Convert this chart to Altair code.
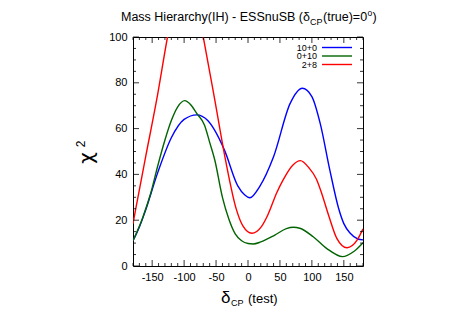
import altair as alt
import pandas as pd

# ---- data ----
series_names = ["10+0", "0+10", "2+8"]
series_colors = ["#0000ff", "#006400", "#ff0000"]

blue_x = [-180, -170, -162, -141, -120, -100, -80, -63, -37, -16, -5, 3, 18, 40, 66, 85, 100, 113, 128, 142, 150, 160, 172, 180]
blue_y = [11, 17, 23, 41, 56, 64, 66, 63.5, 50.7, 35, 31, 29.8, 34.6, 47.7, 71, 77.6, 74, 62.3, 42, 25, 18.5, 14.3, 11.8, 11.4]

green_x = [-180, -165, -152, -141, -130, -120, -110, -99, -90, -80, -68, -60, -52, -40, -30, -20, -10, 0, 8, 20, 42, 60, 71, 81, 102, 123, 148, 165, 180]
green_y = [11, 21, 32, 44, 55, 63.5, 69.5, 72.2, 70.5, 66.5, 61.5, 54, 46.3, 30, 20.5, 14, 11, 9.8, 9.6, 10.5, 13.5, 16.3, 16.9, 16.5, 12.8, 7.7, 4.1, 6.2, 10.2]

red_x = [-180, -176, -160, -143, -126, -112, -98, -84, -70, -52, -35, -18, -8, 6, 21, 31, 45, 55, 70, 82, 95, 107, 115, 126, 139, 155, 171, 180]
red_y = [18.5, 24.5, 48, 72.5, 100, 120, 128, 120, 100, 72.5, 46, 24.5, 17.5, 14.3, 17.2, 22.3, 32, 37.6, 44, 46, 43, 38, 32, 22.3, 12.1, 8, 11.4, 16.2]

x_major = [-150, -100, -50, 0, 50, 100, 150]
x_minor = [v for v in range(-180, 181, 10) if v % 50 != 0]
y_major = [0, 20, 40, 60, 80, 100]
y_minor = [v for v in range(0, 101, 5) if v % 20 != 0]

rows = []
for name, xs, ys in zip(series_names, [blue_x, green_x, red_x], [blue_y, green_y, red_y]):
    for xv, yv in zip(xs, ys):
        rows.append({"series": name, "x": xv, "y": yv})
df = pd.DataFrame(rows)

W, H = 230, 229
FONT = "Liberation Sans"

xscale = alt.Scale(domain=[-180, 180], nice=False, zero=False)
yscale = alt.Scale(domain=[0, 100], nice=False, zero=False)
cscale = alt.Scale(domain=series_names, range=series_colors)

xaxis = alt.Axis(values=x_major, ticks=False, domain=False, grid=False,
                 labelPadding=5, labelFontSize=11, labelFont=FONT,
                 labelColor="black", title=None, labelExpr="datum.value + ''")
yaxis = alt.Axis(values=y_major, ticks=False, domain=False, grid=False,
                 labelPadding=6, labelFontSize=11, labelFont=FONT,
                 labelColor="black", title=None, labelExpr="datum.value + ''")

lines = alt.Chart(df).mark_line(clip=True, interpolate="monotone", strokeWidth=1.4).encode(
    x=alt.X("x:Q", scale=xscale, axis=xaxis, title=None),
    y=alt.Y("y:Q", scale=yscale, axis=yaxis, title=None),
    color=alt.Color("series:N", scale=cscale, legend=None),
    order=alt.Order("x:Q"),
)

def xticks(vals, length):
    d = pd.DataFrame({"t": vals})
    bot = alt.Chart(d).mark_rule(color="black", strokeWidth=0.8).encode(
        x=alt.X("t:Q", scale=xscale, axis=xaxis, title=None), y=alt.value(H), y2=alt.value(H - length))
    top = alt.Chart(d).mark_rule(color="black", strokeWidth=0.8).encode(
        x=alt.X("t:Q", scale=xscale, axis=xaxis, title=None), y=alt.value(0), y2=alt.value(length))
    return [bot, top]

def yticks(vals, length):
    d = pd.DataFrame({"t": vals})
    left = alt.Chart(d).mark_rule(color="black", strokeWidth=0.8).encode(
        y=alt.Y("t:Q", scale=yscale, axis=yaxis, title=None), x=alt.value(0), x2=alt.value(length))
    right = alt.Chart(d).mark_rule(color="black", strokeWidth=0.8).encode(
        y=alt.Y("t:Q", scale=yscale, axis=yaxis, title=None), x=alt.value(W), x2=alt.value(W - length))
    return [left, right]

ticks = xticks(x_major, 6) + xticks(x_minor, 3) + yticks(y_major, 6) + yticks(y_minor, 3)

def txt(s, x, y, size, align="left", baseline="alphabetic", angle=0, font=FONT):
    return alt.Chart(pd.DataFrame({"s": [s]})).mark_text(
        align=align, baseline=baseline, font=font, fontSize=size, color="black", angle=angle
    ).encode(text="s:N", x=alt.value(x), y=alt.value(y))

# title pieces
title = [
    txt("Mass Hierarchy(IH) - ESSnuSB (δ", -12, -16, 12.5),
    txt("CP", 177, -12, 9),
    txt("(true)=0", 190, -16, 12.5),
    txt("o", 234.5, -21, 8.5),
    txt(")", 239.5, -16, 12.5),
]

# axis titles
ytitle = [
    txt("χ", -46, 121, 20, align="center", baseline="middle", angle=270, font="DejaVu Sans"),
    txt("2", -52, 107, 12, align="center", baseline="middle", angle=270),
]
xtitle = [
    txt("δ", 88, 266, 17),
    txt("CP", 98, 269, 9),
    txt("(test)", 115, 266, 13),
]

# legend
leg_y = [10.5, 19, 27.5]
legend = []
for i, name in enumerate(series_names):
    legend.append(txt(name, 184, leg_y[i], 9, align="right", baseline="middle"))
    legend.append(alt.Chart(pd.DataFrame({"series": [name]})).mark_rule(strokeWidth=1.4).encode(
        x=alt.value(189), x2=alt.value(219), y=alt.value(leg_y[i]),
        color=alt.Color("series:N", scale=cscale, legend=None)))

chart = alt.layer(lines, *ticks, *title, *ytitle, *xtitle, *legend).properties(
    width=W, height=H, autosize="none",
    padding={"left": 125, "top": 29, "right": 86, "bottom": 45},
).configure_view(stroke="black", strokeWidth=1)

chart.save("out.html", embed_options={"renderer": "svg", "actions": False})
